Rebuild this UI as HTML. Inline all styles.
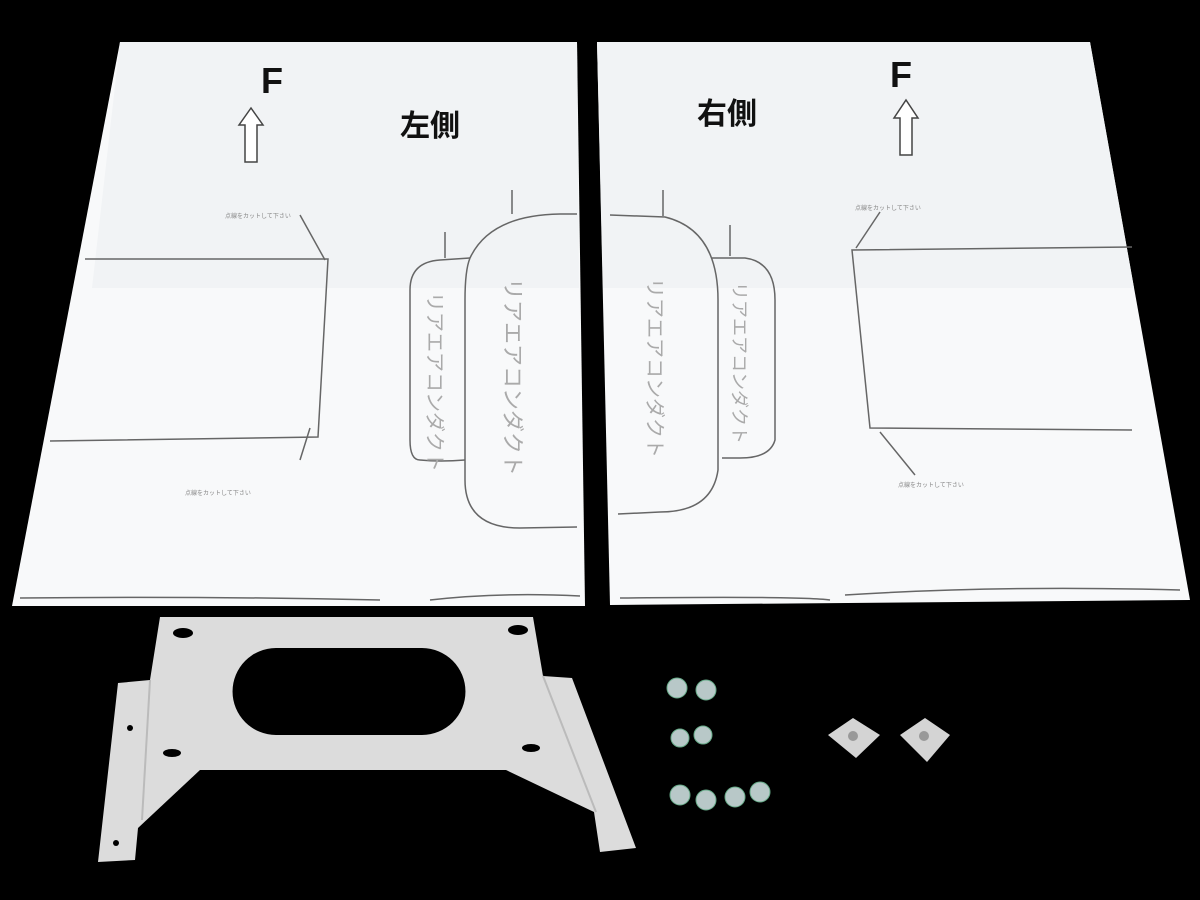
<!DOCTYPE html>
<html><head><meta charset="utf-8"><style>body{margin:0;background:#000}svg{display:block}</style></head><body>
<svg width="1200" height="900" viewBox="0 0 1200 900" xmlns="http://www.w3.org/2000/svg" font-family="Liberation Sans, Noto Sans CJK JP, sans-serif">
<rect width="1200" height="900" fill="#000"/>
<!-- left sheet -->
<polygon points="120,42 577,42 585,606 12,606" fill="#f8f9fa"/>
<polygon points="120,42 577,42 579,288 92,288" fill="#f1f3f5"/>
<text x="261" y="93" font-size="36" font-weight="bold" fill="#111">F</text>
<path d="M245,162 L245,125 L239,125 L251,108 L263,125 L257,125 L257,162 Z" fill="#fff" stroke="#444" stroke-width="1.5"/>
<text x="400" y="136" font-size="30" font-weight="bold" fill="#111">左側</text>
<g stroke="#666" fill="none" stroke-width="1.5">
<path d="M85,259 L328,259 L318,437 L50,441"/>
<path d="M420,460 Q410,460 410,440 L410,290 Q410,262 440,260 L470,258"/>
<path d="M470,258 Q490,215 560,214 L577,214"/>
<path d="M470,258 Q465,270 465,300 L465,480 Q465,528 520,528 L577,527"/>
<path d="M420,460 Q440,462 465,460"/>
<path d="M20,598 Q200,596 380,600 M430,600 Q500,592 580,596"/>
<path d="M300,215 L325,260 M300,460 L310,428 M512,190 L512,214 M445,232 L445,258"/>
</g>
<text font-size="6" fill="#888" x="225" y="218">点線をカットして下さい</text>
<text font-size="6" fill="#888" x="185" y="495">点線をカットして下さい</text>
<text font-size="20" fill="#aaa" transform="translate(428,292) rotate(90)">リアエアコンダクト</text>
<text font-size="22" fill="#aaa" transform="translate(505,278) rotate(90)">リアエアコンダクト</text>
<!-- right sheet -->
<polygon points="597,42 1090,42 1190,600 610,605" fill="#f8f9fa"/>
<polygon points="597,42 1090,42 1134,288 603,288" fill="#f1f3f5"/>
<text x="890" y="87" font-size="36" font-weight="bold" fill="#111">F</text>
<path d="M900,155 L900,118 L894,118 L906,100 L918,118 L912,118 L912,155 Z" fill="#fff" stroke="#444" stroke-width="1.5"/>
<text x="697" y="124" font-size="30" font-weight="bold" fill="#111">右側</text>
<g stroke="#666" fill="none" stroke-width="1.5">
<path d="M610,215 L665,217 Q718,230 718,300 L718,470 Q712,512 660,512 L618,514"/>
<path d="M712,258 L745,258 Q775,262 775,300 L775,440 Q770,458 740,458 L722,458"/>
<path d="M1132,247 L852,250 L870,428 L1132,430"/>
<path d="M620,598 Q800,596 830,600 M845,595 Q1000,585 1180,590"/>
<path d="M663,190 L663,216 M730,225 L730,256 M880,212 L856,248 M915,475 L880,432"/>
</g>
<text font-size="20" fill="#aaa" transform="translate(648,278) rotate(90)">リアエアコンダクト</text>
<text font-size="18" fill="#aaa" transform="translate(733,282) rotate(90)">リアエアコンダクト</text>
<text font-size="6" fill="#888" x="855" y="210">点線をカットして下さい</text>
<text font-size="6" fill="#888" x="898" y="487">点線をカットして下さい</text>
<!-- bracket -->
<path fill="#dcdcdc" fill-rule="evenodd" d="M160,617 L533,617 L543,676 L572,678 L636,848 L600,852 L594,812 L506,770 L200,770 L138,828 L135,860 L98,862 L118,683 L150,680 Z M276,648 L422,648 A43,43 0 0 1 422,735 L276,735 A43,43 0 0 1 276,648 Z"/>
<path d="M150,680 L142,820 M543,676 L596,812" stroke="#bbb" stroke-width="2" fill="none"/>
<g fill="#000">
<ellipse cx="183" cy="633" rx="10" ry="5"/><ellipse cx="518" cy="630" rx="10" ry="5"/>
<ellipse cx="172" cy="753" rx="9" ry="4"/><ellipse cx="531" cy="748" rx="9" ry="4"/>
<circle cx="130" cy="728" r="3"/><circle cx="597" cy="722" r="3"/>
<circle cx="116" cy="843" r="3"/><circle cx="580" cy="835" r="3"/>
</g>
<!-- screws -->
<g fill="#b8c8c8" stroke="#6a8" stroke-width="1">
<circle cx="677" cy="688" r="10"/><circle cx="706" cy="690" r="10"/>
<circle cx="680" cy="738" r="9"/><circle cx="703" cy="735" r="9"/>
<circle cx="680" cy="795" r="10"/><circle cx="706" cy="800" r="10"/><circle cx="735" cy="797" r="10"/><circle cx="760" cy="792" r="10"/>
</g>
<!-- nuts -->
<g fill="#d4d4d4">
<polygon points="828,735 853,718 880,735 856,758"/>
<polygon points="900,735 925,718 950,735 927,762"/>
</g>
<circle cx="853" cy="736" r="5" fill="#999"/><circle cx="924" cy="736" r="5" fill="#999"/>
</svg>
</body></html>
